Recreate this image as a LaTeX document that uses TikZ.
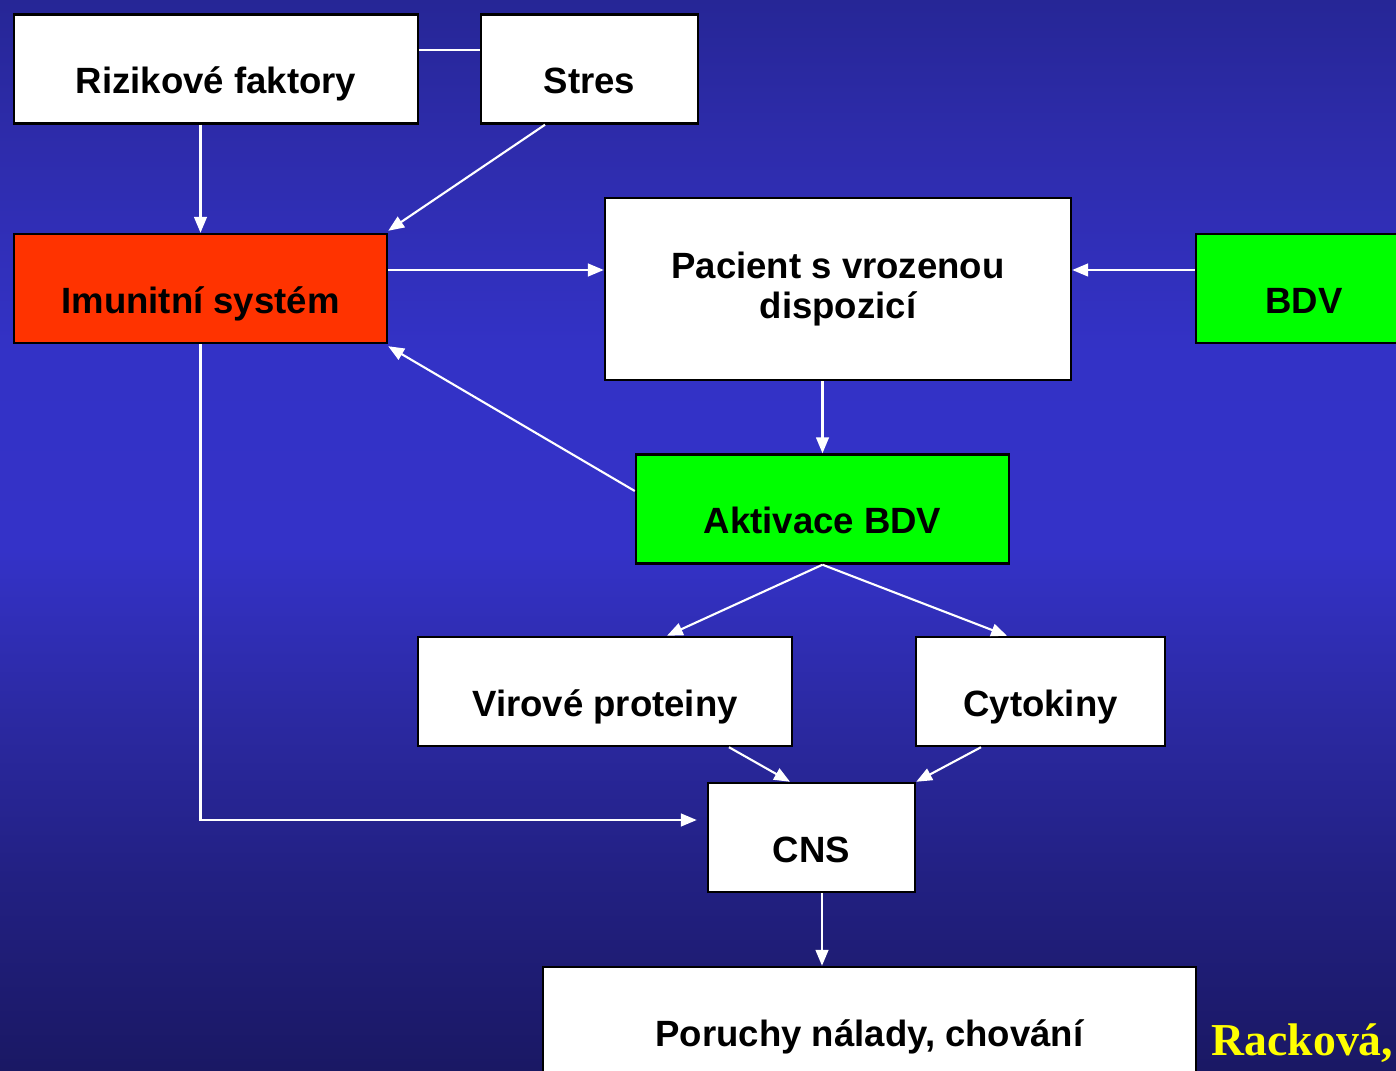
\documentclass[tikz,border=0pt]{standalone}
\usepackage{fontspec}
\setmainfont{Liberation Sans}
\newfontfamily\sourcefont{Liberation Serif}
\usetikzlibrary{arrows.meta}
\definecolor{bgtop}{RGB}{38,38,150}
\definecolor{bgupper}{RGB}{46,44,172}
\definecolor{bgnear}{RGB}{51,50,198}
\definecolor{bgmid}{RGB}{52,50,200}
\definecolor{bglower}{RGB}{44,42,165}
\definecolor{bgdeep}{RGB}{34,32,130}
\definecolor{bgbot}{RGB}{26,24,100}
\definecolor{immred}{RGB}{255,51,0}
\definecolor{virgreen}{RGB}{0,255,0}
\definecolor{srcyellow}{RGB}{255,255,0}
\pgfdeclareverticalshading{bgfade}{100bp}{color(0bp)=(bgbot); color(25bp)=(bgbot);
    color(33.9bp)=(bgdeep); color(42.3bp)=(bglower); color(49.3bp)=(bgmid);
    color(58.6bp)=(bgnear); color(68bp)=(bgupper); color(75bp)=(bgtop); color(100bp)=(bgtop)}

\begin{document}
\begin{tikzpicture}[
    box/.style={draw=black, line width=0.7pt, fill=white, inner sep=0pt,
        minimum height=1.09cm, text height=14pt, text depth=0pt,
        font=\fontsize{10.4}{11.2}\selectfont\bfseries},
    link/.style={draw=white, line width=0.6pt, -{Triangle[length=4.5pt, width=3.6pt]}},
    plain/.style={draw=white, line width=0.6pt}
]
    % Background
    \clip (0, 0) rectangle (13.96, 10.70);
    \shade[shading=bgfade] (0, 0) rectangle (13.96, 10.70);

    % Top row
    \node[box, minimum width=4.04cm] (riz) at (2.16, 10.01) {Rizikové faktory};
    \node[box, minimum width=2.17cm] (stres) at (5.895, 10.01) {Stres};

    % Second row
    \node[box, fill=immred, minimum width=3.73cm] (imu) at (2.005, 7.815) {Imunitní systém};
    \node[box, minimum width=4.66cm, minimum height=1.82cm, text height=, text depth=, align=center] (pac) at (8.38, 7.81) {Pacient s vrozenou\\dispozicí};
    \node[box, fill=virgreen, minimum width=2.16cm] (bdv) at (13.04, 7.815) {BDV};

    % Activation
    \node[box, fill=virgreen, minimum width=3.73cm] (akt) at (8.225, 5.61) {Aktivace BDV};

    % Products
    \node[box, minimum width=3.74cm] (vir) at (6.05, 3.785) {Virové proteiny};
    \node[box, minimum width=2.49cm] (cyt) at (10.405, 3.785) {Cytokiny};

    % CNS and outcome
    \node[box, minimum width=2.07cm] (cns) at (8.115, 2.325) {CNS};
    \node[box, minimum width=6.53cm] (por) at (8.695, 0.485) {Poruchy nálady, chování};

    % Source
    \node[anchor=base west, inner sep=0pt, text=srcyellow, font=\sourcefont\fontsize{13}{16}\selectfont\bfseries] (src) at (12.11, 0.14) {Racková,};

    % Connectors
    \draw[plain] ([yshift=1.9mm]riz.east) -- ([yshift=1.9mm]stres.west);
    \draw[link] (riz.south -| imu.north) -- (imu.north);
    \draw[link] ([xshift=-4.45mm]stres.south) -- ([yshift=0.2mm]imu.north east);
    \draw[link] ([yshift=1.85mm]imu.east) -- ([yshift=1.85mm]imu.east -| pac.west);
    \draw[link] ([yshift=1.85mm]bdv.west) -- ([yshift=1.85mm]bdv.west -| pac.east);
    \draw[link] (pac.south -| akt.north) -- (akt.north);
    \draw[link] ([yshift=1.8mm]akt.west) -- ([yshift=-0.2mm]imu.south east);
    \draw[link] (akt.south) -- ([xshift=6.2mm]vir.north);
    \draw[link] (akt.south) -- ([xshift=-3.35mm]cyt.north);
    \draw[link] ([xshift=12.4mm]vir.south) -- ([xshift=-2.15mm]cns.north);
    \draw[link] ([xshift=-5.95mm]cyt.south) -- (cns.north east);
    \draw[link] (imu.south) |- ([xshift=-1mm, yshift=1.75mm]cns.west);
    \draw[link] ([xshift=1.05mm]cns.south) -- ([xshift=1.05mm]cns.south |- por.north);

\end{tikzpicture}
\end{document}
